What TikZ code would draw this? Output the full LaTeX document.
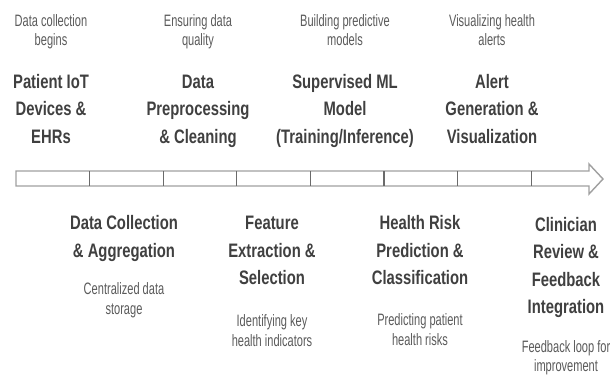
\documentclass[tikz,border=0pt]{standalone}
\usepackage{fontspec}
\setmainfont{Liberation Sans}
\newfontfamily\titlefont[FakeStretch=0.76]{Liberation Sans}
\newfontfamily\notefont[FakeStretch=0.67]{Liberation Sans}
\definecolor{titlegray}{HTML}{404040}
\definecolor{notegray}{HTML}{5A5A5A}
\definecolor{barline}{HTML}{A0A0A0}
\definecolor{tickline}{HTML}{6A6A6A}
% multi-line nodes are anchored at the baseline of their last line
\tikzset{
  stagetitle/.style={font=\titlefont\bfseries\fontsize{19.5}{27.5}\selectfont,
    text=titlegray, align=center, anchor=base, inner sep=0pt},
  stagenote/.style={font=\notefont\fontsize{16.5}{19.5}\selectfont,
    text=notegray, align=center, anchor=base, inner sep=0pt},
  timeline/.style={draw=barline, line width=1.4pt, fill=white, line join=miter},
  segtick/.style={draw=tickline, line width=1.1pt},
}
\begin{document}
\begin{tikzpicture}[x=1pt,y=-1pt]
\useasboundingbox (0,0) rectangle (612,376);

% timeline arrow
\coordinate (tailtop) at (16,171);
\coordinate (tailbot) at (16,186);
\coordinate (tip) at (603,179);
\draw[timeline] (tailbot) -- (tailtop) -- (589,171) -- (589,164) -- (tip)
  -- (589,194) -- (589,186) -- cycle;
\foreach \k in {1,...,7}{
  \draw[segtick] ({16+73.6*\k},171) -- ({16+73.6*\k},186);
}

% stages above the line
\node[stagenote] (n1) at (51,45.5) {Data collection\\begins};
\node[stagetitle] (s1) at (51,143) {Patient IoT\\Devices \&\\EHRs};

\node[stagenote] (n3) at (198,45.5) {Ensuring data\\quality};
\node[stagetitle] (s3) at (198,143) {Data\\Preprocessing\\\& Cleaning};

\node[stagenote] (n5) at (345,45.5) {Building predictive\\models};
\node[stagetitle] (s5) at (345,143) {Supervised ML\\Model\\(Training/Inference)};

\node[stagenote] (n7) at (492,45.5) {Visualizing health\\alerts};
\node[stagetitle] (s7) at (492,143) {Alert\\Generation \&\\Visualization};

% stages below the line
\node[stagetitle] (s2) at (124,257) {Data Collection\\\& Aggregation};
\node[stagenote] (n2) at (124,314) {Centralized data\\storage};

\node[stagetitle] (s4) at (272,284.5) {Feature\\Extraction \&\\Selection};
\node[stagenote] (n4) at (272,346) {Identifying key\\health indicators};

\node[stagetitle] (s6) at (420,284.5) {Health Risk\\Prediction \&\\Classification};
\node[stagenote] (n6) at (420,345) {Predicting patient\\health risks};

\node[stagetitle] (s8) at (566,313.5) {Clinician\\Review \&\\Feedback\\Integration};
\node[stagenote] (n8) at (566,371.5) {Feedback loop for\\improvement};
\end{tikzpicture}
\end{document}
